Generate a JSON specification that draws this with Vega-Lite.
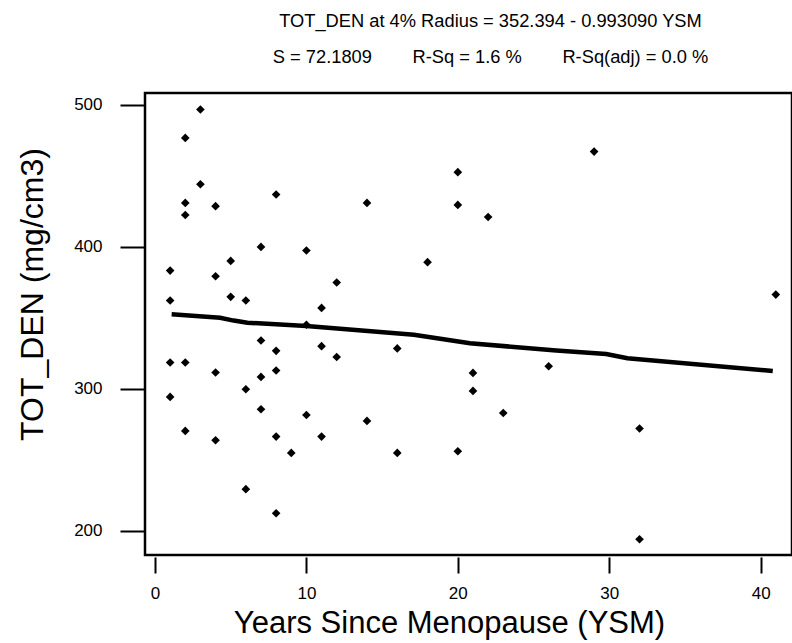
{
  "$schema": "https://vega.github.io/schema/vega-lite/v6.json",
  "autosize": {"type": "none"},
  "width": 647,
  "height": 462,
  "padding": {"left": 145, "top": 93, "right": 0, "bottom": 88},
  "background": "white",
  "config": {
    "font": "Liberation Sans",
    "view": {"stroke": "black", "strokeWidth": 2.5},
    "axis": {"grid": false, "domain": false, "tickColor": "black", "labelColor": "black", "titleColor": "black", "labelFont": "Liberation Sans", "titleFont": "Liberation Sans", "titleFontWeight": "normal"}
  },
  "title": {
    "text": ["TOT_DEN at 4% Radius = 352.394 - 0.993090 YSM", "\u00a0\u00a0\u00a0\u00a0\u00a0\u00a0\u00a0\u00a0\u00a0\u00a0S = 72.1809\u00a0\u00a0\u00a0\u00a0\u00a0\u00a0\u00a0\u00a0R-Sq = 1.6 %\u00a0\u00a0\u00a0\u00a0\u00a0\u00a0\u00a0\u00a0R-Sq(adj) = 0.0 %"],
    "fontSize": 18.3,
    "fontWeight": "normal",
    "font": "Liberation Sans",
    "color": "black",
    "anchor": "middle",
    "lineHeight": 36,
    "dx": 22,
    "offset": 26
  },
  "datasets": {
    "points": [
      {"YSM": 3, "TOT_DEN": 496.5},
      {"YSM": 2, "TOT_DEN": 476.5},
      {"YSM": 3, "TOT_DEN": 443.9},
      {"YSM": 2, "TOT_DEN": 430.8},
      {"YSM": 2, "TOT_DEN": 422.3},
      {"YSM": 4, "TOT_DEN": 428.5},
      {"YSM": 8, "TOT_DEN": 436.7},
      {"YSM": 14, "TOT_DEN": 430.8},
      {"YSM": 20, "TOT_DEN": 452.4},
      {"YSM": 20, "TOT_DEN": 429.4},
      {"YSM": 1, "TOT_DEN": 383.2},
      {"YSM": 7, "TOT_DEN": 399.8},
      {"YSM": 5, "TOT_DEN": 390.0},
      {"YSM": 4, "TOT_DEN": 379.2},
      {"YSM": 10, "TOT_DEN": 397.3},
      {"YSM": 18, "TOT_DEN": 389.1},
      {"YSM": 12, "TOT_DEN": 374.8},
      {"YSM": 1, "TOT_DEN": 362.1},
      {"YSM": 5, "TOT_DEN": 364.7},
      {"YSM": 6, "TOT_DEN": 362.1},
      {"YSM": 11, "TOT_DEN": 356.9},
      {"YSM": 10, "TOT_DEN": 345.1},
      {"YSM": 29, "TOT_DEN": 466.9},
      {"YSM": 22, "TOT_DEN": 420.9},
      {"YSM": 41, "TOT_DEN": 366.3},
      {"YSM": 7, "TOT_DEN": 334.0},
      {"YSM": 8, "TOT_DEN": 326.7},
      {"YSM": 11, "TOT_DEN": 330.0},
      {"YSM": 12, "TOT_DEN": 322.4},
      {"YSM": 16, "TOT_DEN": 328.4},
      {"YSM": 1, "TOT_DEN": 318.5},
      {"YSM": 2, "TOT_DEN": 318.5},
      {"YSM": 4, "TOT_DEN": 311.5},
      {"YSM": 7, "TOT_DEN": 308.4},
      {"YSM": 8, "TOT_DEN": 312.9},
      {"YSM": 6, "TOT_DEN": 299.7},
      {"YSM": 1, "TOT_DEN": 294.3},
      {"YSM": 7, "TOT_DEN": 285.6},
      {"YSM": 10, "TOT_DEN": 281.6},
      {"YSM": 14, "TOT_DEN": 277.4},
      {"YSM": 2, "TOT_DEN": 270.4},
      {"YSM": 4, "TOT_DEN": 263.8},
      {"YSM": 8, "TOT_DEN": 266.4},
      {"YSM": 11, "TOT_DEN": 266.4},
      {"YSM": 9, "TOT_DEN": 254.9},
      {"YSM": 16, "TOT_DEN": 254.9},
      {"YSM": 20, "TOT_DEN": 256.1},
      {"YSM": 6, "TOT_DEN": 229.4},
      {"YSM": 8, "TOT_DEN": 212.5},
      {"YSM": 21, "TOT_DEN": 311.2},
      {"YSM": 21, "TOT_DEN": 298.5},
      {"YSM": 23, "TOT_DEN": 283.0},
      {"YSM": 26, "TOT_DEN": 315.9},
      {"YSM": 32, "TOT_DEN": 272.1},
      {"YSM": 32, "TOT_DEN": 194.2}
    ],
    "fit": [
      {"YSM": 1.1, "TOT_DEN": 352.4},
      {"YSM": 4.3, "TOT_DEN": 350.0},
      {"YSM": 5.2, "TOT_DEN": 348.0},
      {"YSM": 6.1, "TOT_DEN": 346.5},
      {"YSM": 10.0, "TOT_DEN": 344.2},
      {"YSM": 17.1, "TOT_DEN": 338.0},
      {"YSM": 20.8, "TOT_DEN": 332.0},
      {"YSM": 26.5, "TOT_DEN": 327.0},
      {"YSM": 29.8, "TOT_DEN": 324.5},
      {"YSM": 31.2, "TOT_DEN": 321.5},
      {"YSM": 40.8, "TOT_DEN": 312.5}
    ]
  },
  "layer": [
    {
      "data": {"name": "fit"},
      "mark": {"type": "line", "color": "black", "strokeWidth": 4.5, "clip": true},
      "encoding": {
        "x": {"field": "YSM", "type": "quantitative"},
        "y": {"field": "TOT_DEN", "type": "quantitative"}
      }
    },
    {
      "data": {"name": "points"},
      "mark": {"type": "point", "shape": "diamond", "filled": true, "color": "black", "opacity": 1, "size": 75, "clip": true},
      "encoding": {
        "x": {
          "field": "YSM", "type": "quantitative",
          "scale": {"domain": [-0.66, 42.07], "nice": false, "zero": false},
          "axis": {
            "title": "Years Since Menopause (YSM)",
            "values": [0, 10, 20, 30, 40],
            "offset": 2,
            "tickSize": 16,
            "tickWidth": 2,
            "labelPadding": 12,
            "labelFontSize": 17,
            "titleFontSize": 31,
            "titleX": 304,
            "titleY": 75,
            "titleBaseline": "alphabetic"
          }
        },
        "y": {
          "field": "TOT_DEN", "type": "quantitative",
          "scale": {"domain": [183.1, 508.1], "nice": false, "zero": false},
          "axis": {
            "title": "TOT_DEN (mg/cm3)",
            "values": [200, 300, 400, 500],
            "tickSize": 25,
            "tickWidth": 2,
            "labelPadding": 18,
            "labelFontSize": 17,
            "titleFontSize": 32,
            "titleX": -96,
            "titleY": 201,
            "titleBaseline": "bottom"
          }
        }
      }
    }
  ]
}
